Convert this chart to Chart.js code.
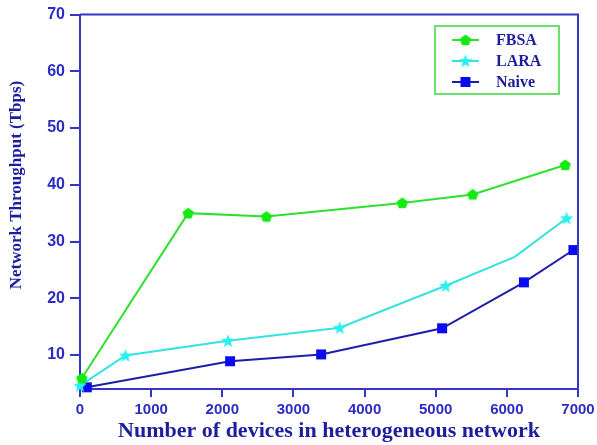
<!DOCTYPE html>
<html>
<head>
<meta charset="utf-8">
<script src="https://cdn.jsdelivr.net/npm/chart.js@4.4.1/dist/chart.umd.min.js"></script>
<style>
    html, body { margin: 0; padding: 0; background: #fff; }
    #wrap { width: 597px; height: 445px; }
</style>
</head>
<body>
<div id="wrap"><canvas id="chart" width="597" height="445"></canvas></div>
<script>
// === DATA ===
const seriesNames = ['FBSA', 'LARA', 'Naive'];
const xTicks = [0, 1000, 2000, 3000, 4000, 5000, 6000, 7000];
const yTicks = [10, 20, 30, 40, 50, 60, 70];

const fbsaX = [25, 1520, 2620, 4530, 5520, 6820];
const fbsaY = [5.9, 35.0, 34.4, 36.8, 38.3, 43.5];
const laraX = [0, 640, 2080, 3650, 5140, 6110, 6840];
const laraY = [4.6, 9.9, 12.5, 14.8, 22.2, 27.3, 34.1];
const naiveX = [95, 2110, 3390, 5090, 6240, 6935];
const naiveY = [4.3, 8.9, 10.1, 14.7, 22.8, 28.5];

// === STYLE ===
const AXIS = '#3535c8';
const TICK_TEXT = '#2c2cc2';
const TITLE_TEXT = '#1d1d9e';

function toPoints(xs, ys) {
    return xs.map((x, i) => ({ x: x, y: ys[i] }));
}

// marker canvases (pentagon, star, square)
function makeMarker(shape, color) {
    const c = document.createElement('canvas');
    c.width = 14; c.height = 14;
    const g = c.getContext('2d');
    g.fillStyle = color;
    g.beginPath();
    if (shape === 'pentagon') {
        for (let k = 0; k < 5; k++) {
            const a = -Math.PI / 2 + k * 2 * Math.PI / 5;
            const px = 7 + 6 * Math.cos(a), py = 7.5 + 6 * Math.sin(a);
            k === 0 ? g.moveTo(px, py) : g.lineTo(px, py);
        }
    } else if (shape === 'star') {
        for (let k = 0; k < 10; k++) {
            const r = k % 2 === 0 ? 7 : 3;
            const a = -Math.PI / 2 + k * Math.PI / 5;
            const px = 7 + r * Math.cos(a), py = 7.5 + r * Math.sin(a);
            k === 0 ? g.moveTo(px, py) : g.lineTo(px, py);
        }
    } else {
        g.rect(2, 2, 10, 10);
    }
    g.closePath();
    g.fill();
    return c;
}

const markers = [
    makeMarker('pentagon', '#12ea12'),
    makeMarker('star', '#2af0f0'),
    makeMarker('square', '#0b0bef')
];
const lineColors = ['#30e030', '#35e2e2', '#1e1ea8'];

// === PLUGINS ===
const frameAndLegend = {
    id: 'frameAndLegend',
    afterDatasetsDraw(chart) {
        const ctx = chart.ctx;
        const a = chart.chartArea;
        ctx.save();
        // top + right frame
        ctx.strokeStyle = AXIS;
        ctx.lineWidth = 2;
        ctx.beginPath();
        ctx.moveTo(a.left, a.top);
        ctx.lineTo(a.right, a.top);
        ctx.lineTo(a.right, a.bottom);
        ctx.stroke();

        // y axis title
        ctx.fillStyle = TITLE_TEXT;
        ctx.font = 'bold 17px "Liberation Serif"';
        ctx.textAlign = 'center';
        ctx.textBaseline = 'middle';
        ctx.translate(17, 185);
        ctx.rotate(-Math.PI / 2);
        ctx.fillText('Network Throughput (Tbps)', 0, 0);
        ctx.restore();

        // legend box
        ctx.save();
        ctx.strokeStyle = '#3ad83a';
        ctx.lineWidth = 1.5;
        ctx.strokeRect(435, 26, 124, 68);
        ctx.font = 'bold 16px "Liberation Serif"';
        ctx.textBaseline = 'middle';
        ctx.textAlign = 'left';
        chart.data.datasets.forEach((ds, i) => {
            const y = 40 + i * 21;
            ctx.strokeStyle = ds.borderColor;
            ctx.lineWidth = 2;
            ctx.beginPath();
            ctx.moveTo(452, y);
            ctx.lineTo(479, y);
            ctx.stroke();
            const m = ds.pointStyle;
            ctx.drawImage(m, 465.5 - m.width / 2, y - m.height / 2);
            ctx.fillStyle = TITLE_TEXT;
            ctx.fillText(ds.label, 496, y + 1);
        });
        ctx.restore();
    }
};

// === CHART ===
const datasets = [
    { label: seriesNames[0], data: toPoints(fbsaX, fbsaY), pointStyle: markers[0], borderColor: lineColors[0] },
    { label: seriesNames[1], data: toPoints(laraX, laraY), pointStyle: markers[1], borderColor: lineColors[1],
      pointRadius: laraX.map((x, i) => i === 5 ? 0 : 7) },
    { label: seriesNames[2], data: toPoints(naiveX, naiveY), pointStyle: markers[2], borderColor: lineColors[2] }
].map(ds => Object.assign({
    borderWidth: 2,
    pointRadius: 7,
    pointHoverRadius: 7,
    tension: 0,
    fill: false,
    clip: false
}, ds));

const ctx = document.getElementById('chart').getContext('2d');
const chart = new Chart(ctx, {
    type: 'line',
    data: { datasets: datasets },
    options: {
        responsive: false,
        animation: false,
        layout: { padding: { left: 0, top: 13, right: 19, bottom: 0 } },
        plugins: {
            legend: { display: false },
            tooltip: { enabled: false }
        },
        scales: {
            x: {
                type: 'linear',
                min: xTicks[0],
                max: xTicks[xTicks.length - 1],
                afterFit: s => { s.height = 56; s.paddingRight = 0; s.paddingLeft = 0; },
                afterBuildTicks: s => { s.ticks = xTicks.map(v => ({ value: v })); },
                border: { display: true, color: AXIS, width: 2 },
                grid: { drawOnChartArea: false, drawTicks: true, tickLength: 8, tickColor: AXIS, lineWidth: 2 },
                ticks: {
                    color: TICK_TEXT,
                    padding: 4,
                    maxRotation: 0,
                    callback: v => String(v),
                    font: { family: '"Liberation Sans"', size: 15, weight: 'bold' }
                },
                title: {
                    display: true,
                    text: 'Number of devices in heterogeneous network',
                    color: TITLE_TEXT,
                    padding: { top: 0, bottom: 0 },
                    font: { family: '"Liberation Serif"', size: 22, weight: 'bold' }
                }
            },
            y: {
                min: 4,
                max: 70,
                afterFit: s => { s.width = 80; },
                afterBuildTicks: s => { s.ticks = yTicks.map(v => ({ value: v })); },
                border: { display: true, color: AXIS, width: 2 },
                grid: { drawOnChartArea: false, drawTicks: true, tickLength: 10, tickColor: AXIS, lineWidth: 2 },
                ticks: {
                    color: TICK_TEXT,
                    padding: 5,
                    callback: v => String(v),
                    font: { family: '"Liberation Sans"', size: 16, weight: 'bold' }
                }
            }
        }
    },
    plugins: [frameAndLegend]
});
</script>
</body>
</html>
